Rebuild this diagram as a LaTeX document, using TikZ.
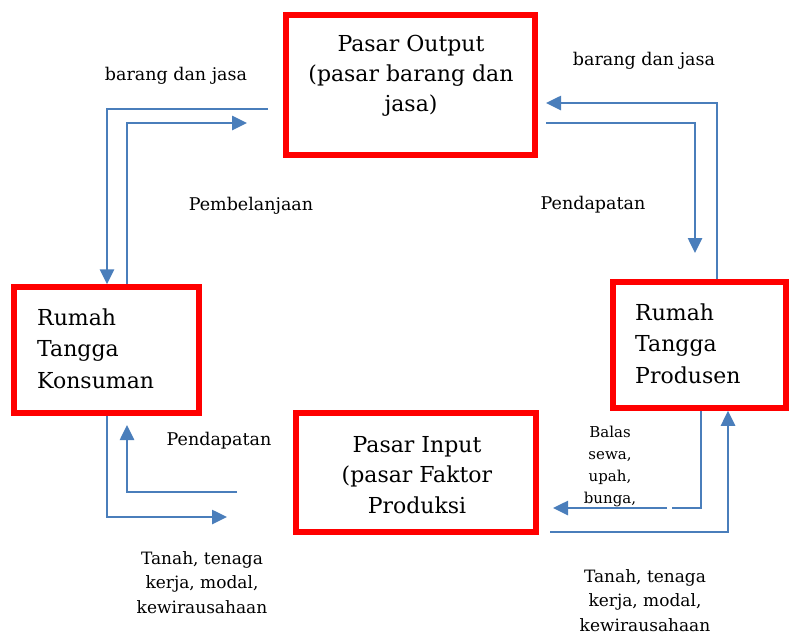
\documentclass[tikz,border=0pt]{standalone}
\usepackage{fontspec}
\setmainfont{DejaVu Serif}
\usetikzlibrary{arrows.meta}
\definecolor{boxred}{RGB}{255,0,0}
\definecolor{flowblue}{RGB}{74,126,187}
\begin{document}
\begin{tikzpicture}[x=1pt,y=-1pt,
  box/.style={draw=boxred,line width=5.5pt,inner sep=0pt,rectangle},
  flow/.style={draw=flowblue,line width=2.6pt},
  arr/.style={-{Triangle[length=15pt,width=14pt]}},
  big/.style={font=\fontsize{22}{30}\selectfont,inner sep=0pt,anchor=base},
  side/.style={font=\fontsize{22}{31.5}\selectfont,inner sep=0pt,anchor=base west,align=left},
  lab/.style={font=\fontsize{17.5}{21}\selectfont,inner sep=0pt,anchor=base},
  small/.style={font=\fontsize{15}{21.7}\selectfont,inner sep=0pt,anchor=base},
  bottomlab/.style={font=\fontsize{17}{24.5}\selectfont,inner sep=0pt,anchor=base,align=center}]
\useasboundingbox (0,0) rectangle (789,635);
% boxes
\node[box,minimum width=249pt,minimum height=140pt] (out) at (410.5,85) {};
\node[box,minimum width=185pt,minimum height=126pt] (kon) at (106.5,350) {};
\node[box,minimum width=173pt,minimum height=126pt] (pro) at (699.5,345) {};
\node[box,minimum width=240pt,minimum height=119pt] (inp) at (416,472.5) {};
% box texts (anchor = baseline of last line)
\node[big,align=center] (outT) at (411,111) {Pasar Output\\(pasar barang dan\\jasa)};
\node[side] (konT) at (37,388) {Rumah\\Tangga\\Konsuman};
\node[side] (proT) at (635,383) {Rumah\\Tangga\\Produsen};
\node[big,align=center,font=\fontsize{22}{30.5}\selectfont] (inpT) at (417,513) {Pasar Input\\(pasar Faktor\\Produksi};
% labels
\node[lab] (l1) at (176,80) {barang dan jasa};
\node[lab] (l2) at (644,65) {barang dan jasa};
\node[lab] (l3) at (251,210) {Pembelanjaan};
\node[lab] (l4) at (593,209) {Pendapatan};
\node[lab] (l5) at (219,445) {Pendapatan};
\node[small,align=center] (l6) at (610,503) {Balas\\sewa,\\upah,\\bunga,};
\node[bottomlab] (l7) at (202,613) {Tanah, tenaga\\kerja, modal,\\kewirausahaan};
\node[bottomlab] (l8) at (645,631) {Tanah, tenaga\\kerja, modal,\\kewirausahaan};
% connectors
\coordinate (a1) at (127,123); \coordinate (a1e) at (247,123);
\draw[flow,arr] (kon.north -| a1) -- (a1) -- (a1e);
\coordinate (b1s) at (268,109); \coordinate (b1) at (107,109);
\draw[flow,arr] (b1s) -- (b1) -- (kon.north -| b1);
\coordinate (c1) at (717,103); \coordinate (c1e) at (546,103);
\draw[flow,arr] (pro.north -| c1) -- (c1) -- (c1e);
\coordinate (d1s) at (546,123); \coordinate (d1) at (695,123); \coordinate (d1e) at (695,253);
\draw[flow,arr] (d1s) -- (d1) -- (d1e);
\coordinate (e1) at (107,517); \coordinate (e1e) at (227,517);
\draw[flow,arr] (kon.south -| e1) -- (e1) -- (e1e);
\coordinate (f1s) at (237,492); \coordinate (f1) at (127,492); \coordinate (f1e) at (127,425);
\draw[flow,arr] (f1s) -- (f1) -- (f1e);
\coordinate (g1) at (701,508); \coordinate (g1a) at (672,508); \coordinate (g1b) at (667,508); \coordinate (g1e) at (553,508);
\draw[flow] (pro.south -| g1) -- (g1) -- (g1a);
\draw[flow,arr] (g1b) -- (g1e);
\coordinate (h1s) at (550,532); \coordinate (h1) at (728,532);
\draw[flow,arr] (h1s) -- (h1) -- (pro.south -| h1);
\end{tikzpicture}
\end{document}
